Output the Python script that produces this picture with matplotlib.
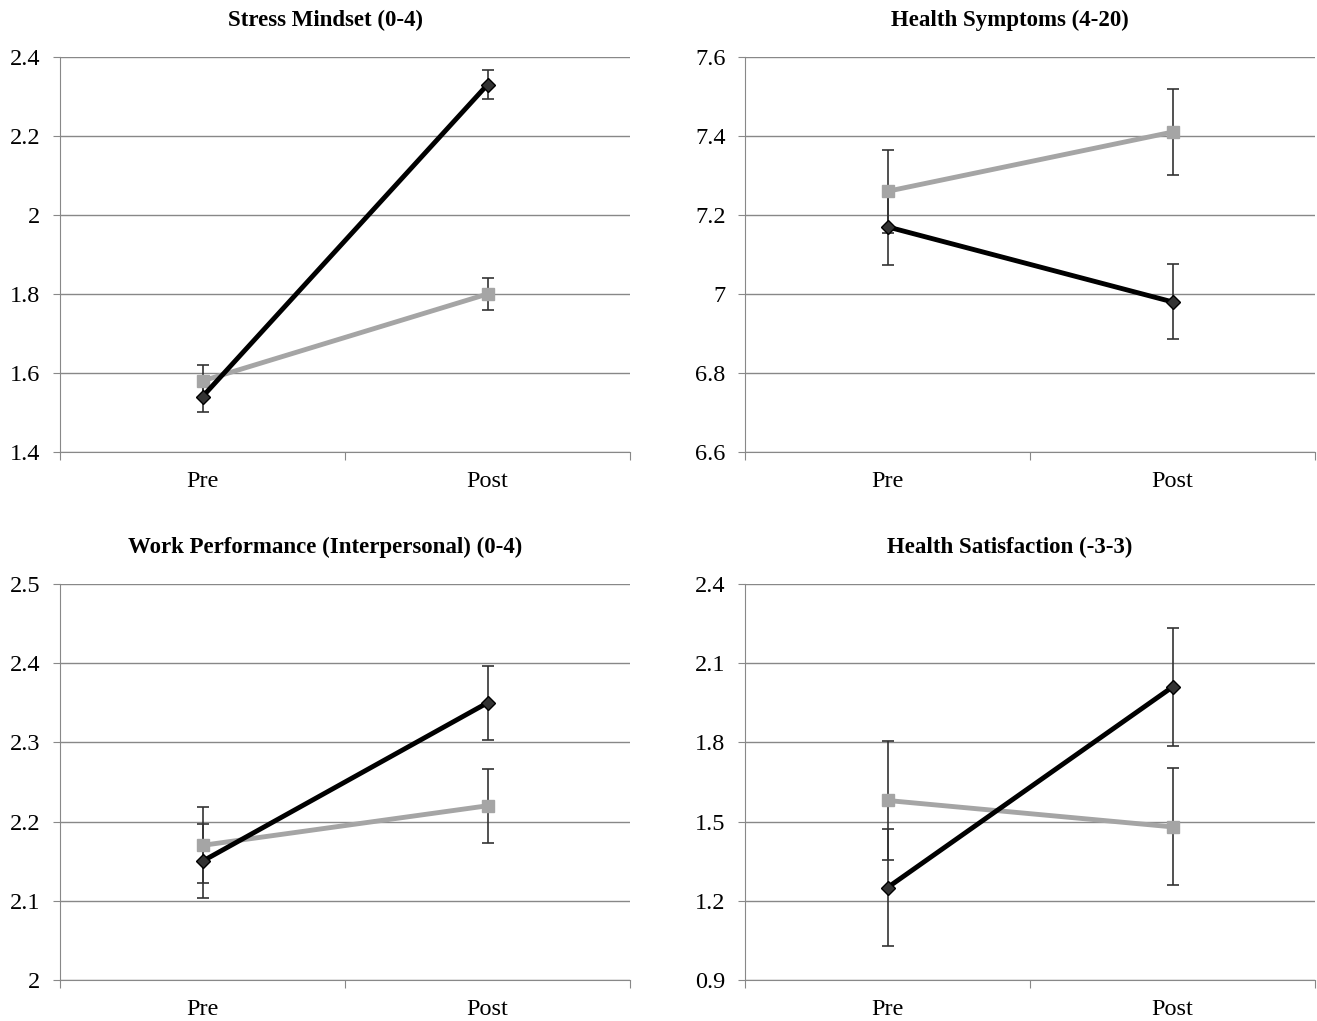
import matplotlib
matplotlib.use("Agg")
import matplotlib.pyplot as plt
import numpy as np

plt.rcParams['font.family'] = ['Liberation Serif', 'DejaVu Serif']

categories = ["Pre", "Post"]

titles = ["Stress Mindset (0-4)", "Health Symptoms (4-20)",
          "Work Performance (Interpersonal) (0-4)", "Health Satisfaction (-3-3)"]

# black series (diamond) and gray series (square): means and error half-widths
black_vals = [[1.54, 2.33], [7.17, 6.98], [2.15, 2.35], [1.25, 2.01]]
black_err = [[0.04, 0.037], [0.097, 0.095], [0.047, 0.047], [0.222, 0.225]]
gray_vals = [[1.58, 1.80], [7.26, 7.41], [2.17, 2.22], [1.58, 1.48]]
gray_err = [[0.04, 0.041], [0.105, 0.108], [0.048, 0.047], [0.225, 0.222]]

ylims = [(1.4, 2.4), (6.6, 7.6), (2.0, 2.5), (0.9, 2.4)]
yticks = [[1.4, 1.6, 1.8, 2.0, 2.2, 2.4],
          [6.6, 6.8, 7.0, 7.2, 7.4, 7.6],
          [2.0, 2.1, 2.2, 2.3, 2.4, 2.5],
          [0.9, 1.2, 1.5, 1.8, 2.1, 2.4]]
yticklabels = [["1.4", "1.6", "1.8", "2", "2.2", "2.4"],
               ["6.6", "6.8", "7", "7.2", "7.4", "7.6"],
               ["2", "2.1", "2.2", "2.3", "2.4", "2.5"],
               ["0.9", "1.2", "1.5", "1.8", "2.1", "2.4"]]

W, H = 1317, 1021
fig = plt.figure(figsize=(W / 100, H / 100), dpi=100)

boxes = [(60, 57, 630, 452), (745, 57, 1315, 452),
         (60, 584, 630, 980), (745, 584, 1315, 980)]

gridc = '#888888'
for i, (l, t, r, b) in enumerate(boxes):
    ax = fig.add_axes([l / W, 1 - b / H, (r - l) / W, (b - t) / H])
    x = np.array([0.5, 1.5])
    ax.set_xlim(0, 2)
    ax.set_ylim(*ylims[i])
    ax.set_yticks(yticks[i])
    ax.set_yticklabels(yticklabels[i], fontsize=17.5)
    ax.set_xticks([0, 1, 2])
    ax.set_xticklabels([])
    ax.set_xticks(x, minor=True)
    ax.set_xticklabels(categories, minor=True, fontsize=17.5)
    ax.tick_params(axis='x', which='minor', length=0, pad=14)
    ax.tick_params(axis='x', which='major', length=6, color=gridc, direction='out')
    ax.tick_params(axis='y', length=5, color=gridc, pad=9)
    ax.yaxis.grid(True, color=gridc, linewidth=1)
    ax.set_axisbelow(True)
    for s in ['top', 'right']:
        ax.spines[s].set_visible(False)
    ax.spines['left'].set_color(gridc)
    ax.spines['bottom'].set_color(gridc)

    ax.errorbar(x, gray_vals[i], yerr=gray_err[i], fmt='none', ecolor='#333333',
                elinewidth=1.2, capsize=4, capthick=1.2, zorder=3)
    ax.errorbar(x, black_vals[i], yerr=black_err[i], fmt='none', ecolor='#333333',
                elinewidth=1.2, capsize=4, capthick=1.2, zorder=3)
    ax.plot(x, gray_vals[i], color='#a5a5a5', linewidth=3.5, marker='s',
            markersize=9, markerfacecolor='#a5a5a5', markeredgecolor='#a5a5a5', zorder=4)
    ax.plot(x, black_vals[i], color='#000000', linewidth=3.5, marker='D',
            markersize=7, markerfacecolor='#333333', markeredgecolor='#000000', zorder=5)

    ax.set_title(titles[i], fontsize=16.5, fontweight='bold', pad=22, x=0.465)

fig.savefig("out.png", dpi=100)
